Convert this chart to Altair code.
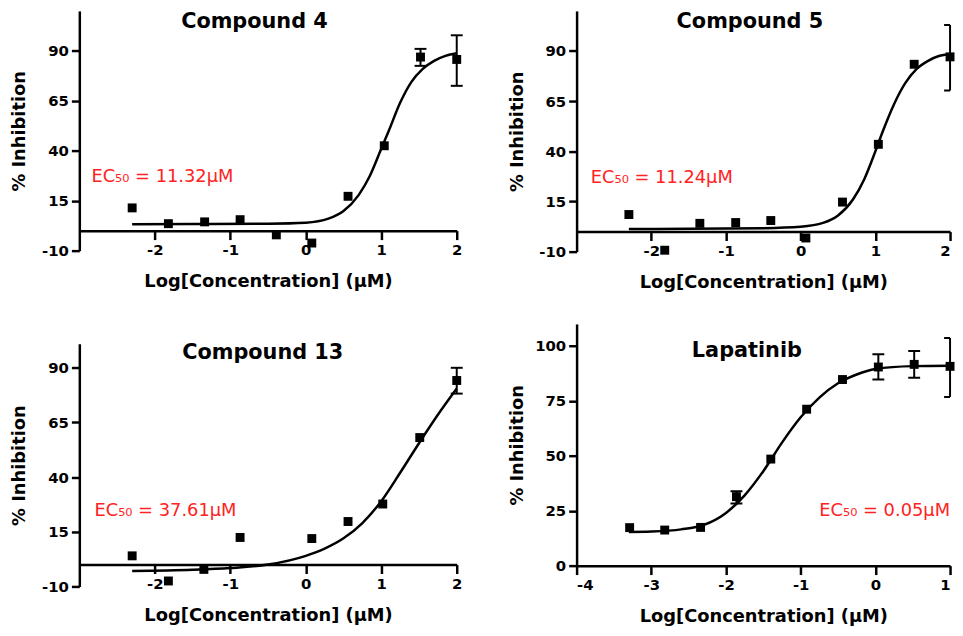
import altair as alt
import pandas as pd

FONT = "DejaVu Sans"
RED = "#ff2222"

# ---------------- Compound 4 ----------------
c4_x = [-2.30, -1.82, -1.34, -0.87, -0.39, 0.08, 0.56, 1.04, 1.52, 2.00]
c4_y = [11.4, 3.5, 4.4, 5.5, -2.1, -6.2, 17.2, 42.5, 86.9, 85.7]
c4_err_x = [1.52, 2.00]
c4_err_lo = [82.5, 72.5]
c4_err_hi = [91.0, 97.8]
c4_fit_x = [-2.3, -1.5, -0.5, 0.0, 0.3, 0.5, 0.7, 0.85, 1.0, 1.1, 1.25, 1.4, 1.55, 1.7, 1.85, 2.0]
c4_fit_y = [3.2, 3.3, 3.5, 4.0, 6.0, 9.8, 17.8, 27.5, 41.0, 50.0, 64.0, 74.5, 81.0, 85.0, 87.5, 88.8]

# ---------------- Compound 5 ----------------
c5_x = [-2.30, -1.82, -1.35, -0.87, -0.40, 0.07, 0.56, 1.04, 1.52, 2.00]
c5_y = [8.5, -9.3, 4.1, 4.5, 5.5, -3.2, 14.7, 43.5, 83.4, 87.1]
c5_err_x = [2.00]
c5_err_lo = [70.3]
c5_err_hi = [103.0]
c5_fit_x = [-2.3, -1.5, -0.5, 0.0, 0.3, 0.5, 0.7, 0.85, 1.0, 1.1, 1.25, 1.4, 1.55, 1.7, 1.85, 2.0]
c5_fit_y = [1.3, 1.4, 1.7, 2.4, 4.3, 8.0, 16.0, 26.0, 40.0, 50.0, 63.5, 74.0, 81.0, 85.0, 87.5, 88.5]

# ---------------- Compound 13 ----------------
c13_x = [-2.30, -1.82, -1.35, -0.87, 0.08, 0.56, 1.02, 1.51, 2.00]
c13_y = [4.0, -7.5, -2.2, 12.4, 11.9, 19.7, 27.7, 58.1, 84.2]
c13_err_x = [2.00]
c13_err_lo = [78.2]
c13_err_hi = [90.0]
c13_fit_x = [-2.3, -1.5, -1.0, -0.5, 0.0, 0.25, 0.5, 0.75, 1.0, 1.25, 1.5, 1.75, 2.0]
c13_fit_y = [-2.9, -2.4, -1.6, 0.0, 4.0, 7.3, 12.0, 19.0, 29.0, 42.0, 55.5, 68.5, 80.5]

# ---------------- Lapatinib ----------------
lap_x = [-3.29, -2.82, -2.34, -1.86, -1.40, -0.92, -0.44, 0.04, 0.52, 1.00]
lap_y = [17.3, 16.2, 17.4, 31.4, 48.5, 71.2, 84.7, 90.4, 91.6, 90.7]
lap_err_x = [-1.86, 0.04, 0.52, 1.00]
lap_err_lo = [28.3, 84.7, 85.5, 76.8]
lap_err_hi = [33.9, 96.2, 97.7, 103.6]
lap_fit_x = [-3.3, -3.0, -2.6, -2.3, -2.0, -1.75, -1.5, -1.25, -1.0, -0.75, -0.5, -0.25, 0.0, 0.5, 1.0]
lap_fit_y = [15.3, 15.5, 16.5, 18.5, 24.0, 32.0, 43.0, 56.0, 67.5, 76.5, 83.0, 87.0, 89.5, 90.8, 91.0]

titles = ["Compound 4", "Compound 5", "Compound 13", "Lapatinib"]
ec50_labels = ["EC₅₀ = 11.32μM", "EC₅₀ = 11.24μM", "EC₅₀ = 37.61μM", "EC₅₀ = 0.05μM"]
x_title = "Log[Concentration] (μM)"
y_title = "% Inhibition"


def panel(px, py, fx, fy, ex, elo, ehi, title, tpos, ec, epos, ealign,
          xdom, ydom, xticks, yticks, w, h, clip=False, title_y=51, flush=False):
    pts = pd.DataFrame({"x": px, "y": py})
    fit = pd.DataFrame({"x": fx, "y": fy})
    err = pd.DataFrame({"x": ex, "lo": elo, "hi": ehi})
    ttl = pd.DataFrame({"x": [tpos[0]], "y": [tpos[1]], "t": [title]})
    ecd = pd.DataFrame({"x": [epos[0]], "y": [epos[1]], "t": [ec]})

    y0 = ydom[0]
    offset = -(0 - y0) * h / (ydom[1] - ydom[0])

    xs = alt.Scale(domain=xdom, nice=False, zero=False)
    ys = alt.Scale(domain=ydom, nice=False, zero=False)
    xaxis = alt.Axis(values=xticks, title=x_title, labelExpr="datum.value + ''",
                     offset=offset, tickSize=9, labelPadding=3, grid=False,
                     titleY=title_y, titleBaseline="middle", labelFlush=flush)
    yaxis = alt.Axis(values=yticks, title=y_title, labelExpr="datum.value + ''",
                     tickSize=8, labelPadding=3, grid=False,
                     titleX=-60, titleBaseline="middle")
    X = alt.X("x:Q", scale=xs, axis=xaxis)
    Y = alt.Y("y:Q", scale=ys, axis=yaxis)

    line = alt.Chart(fit).mark_line(color="black", strokeWidth=2.5,
                                    interpolate="monotone").encode(x=X, y=Y)
    sq = alt.Chart(pts).mark_square(size=81, color="black", opacity=1,
                                    filled=True).encode(x=X, y=Y)
    bars = alt.Chart(err).mark_rule(color="black", strokeWidth=2).encode(
        x=X, y=alt.Y("lo:Q", scale=ys, axis=yaxis), y2="hi:Q")
    cap_lo = alt.Chart(err).mark_point(shape="stroke", size=144, strokeWidth=2,
                                       color="black", opacity=1, clip=clip).encode(
        x=X, y=alt.Y("lo:Q", scale=ys, axis=yaxis))
    cap_hi = alt.Chart(err).mark_point(shape="stroke", size=144, strokeWidth=2,
                                       color="black", opacity=1, clip=clip).encode(
        x=X, y=alt.Y("hi:Q", scale=ys, axis=yaxis))
    tt = alt.Chart(ttl).mark_text(font=FONT, fontSize=21, fontWeight="bold",
                                  color="black", align="center",
                                  baseline="middle").encode(x=X, y=Y, text="t:N")
    et = alt.Chart(ecd).mark_text(font=FONT, fontSize=18, color=RED,
                                  align=ealign, baseline="middle").encode(
        x=X, y=Y, text="t:N")
    return alt.layer(line, bars, cap_lo, cap_hi, sq, tt, et).properties(width=w, height=h)


p1 = panel(c4_x, c4_y, c4_fit_x, c4_fit_y, c4_err_x, c4_err_lo, c4_err_hi,
           titles[0], (-0.68, 104.4), ec50_labels[0], (-2.84, 26.8), "left",
           [-3, 2], [-10, 110], [-2, -1, 0, 1, 2], [-10, 15, 40, 65, 90], 381, 242)
p2 = panel(c5_x, c5_y, c5_fit_x, c5_fit_y, c5_err_x, c5_err_lo, c5_err_hi,
           titles[1], (-0.68, 104.5), ec50_labels[1], (-2.81, 26.6), "left",
           [-3, 2], [-10, 110], [-2, -1, 0, 1, 2], [-10, 15, 40, 65, 90], 377, 243,
           clip=True, flush=True)
p3 = panel(c13_x, c13_y, c13_fit_x, c13_fit_y, c13_err_x, c13_err_lo, c13_err_hi,
           titles[2], (-0.57, 96.6), ec50_labels[2], (-2.80, 24.4), "left",
           [-3, 2], [-10, 101], [-2, -1, 0, 1, 2], [-10, 15, 40, 65, 90], 381, 245,
           title_y=51)
p4 = panel(lap_x, lap_y, lap_fit_x, lap_fit_y, lap_err_x, lap_err_lo, lap_err_hi,
           titles[3], (-1.72, 97.5), ec50_labels[3], (1.0, 25.0), "right",
           [-4, 1], [0, 110], [-4, -3, -2, -1, 0, 1], [0, 25, 50, 75, 100], 377, 244,
           clip=True, title_y=51, flush=True)

left = alt.vconcat(p1, p3, spacing=52)
right = alt.vconcat(p2, p4, spacing=33)
chart = alt.hconcat(left, right, spacing=41).properties(
    padding={"left": 2, "top": 0, "right": 0, "bottom": 0},
    background="white",
).configure_view(stroke=None).configure_axis(
    domainColor="black", domainWidth=2.5, tickColor="black", tickWidth=2.5,
    labelFont=FONT, labelFontWeight="bold", labelFontSize=15, labelColor="black",
    titleFont=FONT, titleFontWeight="bold", titleFontSize=18, titleColor="black",
)

chart.save("out.html", embed_options={"renderer": "svg", "actions": False})
